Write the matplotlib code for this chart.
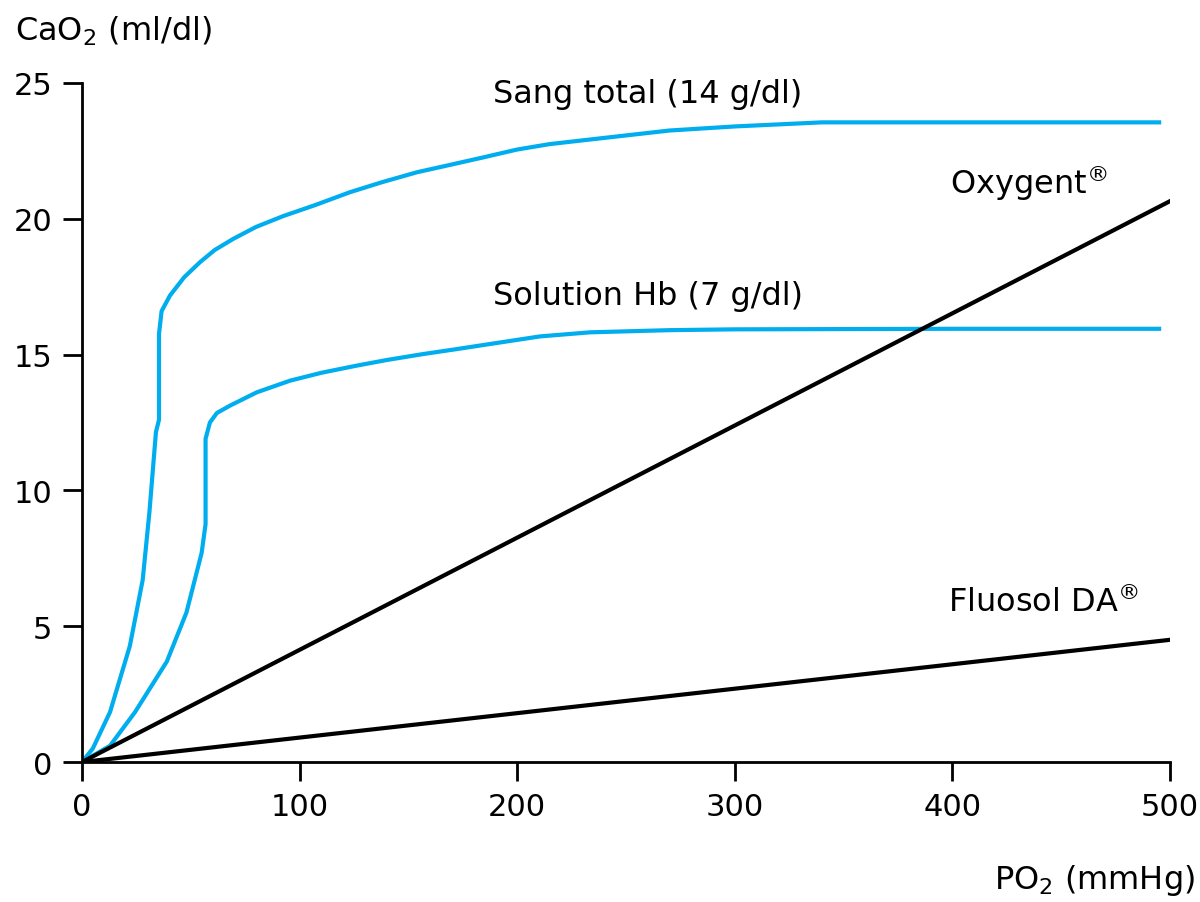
import matplotlib
matplotlib.use("Agg")
import matplotlib.pyplot as plt

plt.rcParams['font.family'] = ['DejaVu Sans']

# Sang total (14 g/dl)
sang_po2 = [0, 5, 12.9, 22, 27.9, 31, 34, 35.4, 35.4, 36.6, 40.4, 47, 54.2, 61, 69.5, 80, 92.5, 107, 123.2, 138,
            153.8, 170, 184.4, 200, 215, 238, 270, 300, 340, 495]
sang_cao2 = [0, 0.5, 1.84, 4.27, 6.7, 9.2, 12.15, 12.6, 15.76, 16.6, 17.17, 17.85, 18.4, 18.85, 19.26, 19.7, 20.1,
             20.5, 20.98, 21.35, 21.71, 22.0, 22.26, 22.55, 22.75, 22.96, 23.25, 23.4, 23.55, 23.55]

# Solution Hb (7 g/dl)
hb_po2 = [0, 12.9, 24.4, 39, 48, 55, 56.8, 56.8, 58.8, 62, 68, 80.3, 95.6, 110, 126, 140, 156.8, 172, 187.5,
          210.5, 233.5, 270, 300, 400, 495]
hb_cao2 = [0, 0.6, 1.84, 3.7, 5.5, 7.7, 8.76, 11.9, 12.5, 12.85, 13.12, 13.61, 14.04, 14.33, 14.59, 14.8, 15.02,
           15.2, 15.39, 15.67, 15.82, 15.9, 15.93, 15.95, 15.95]

# Oxygent et Fluosol DA (droites)
oxy_po2 = [0, 500]
oxy_cao2 = [0, 20.65]
flu_po2 = [0, 500]
flu_cao2 = [0, 4.5]

blue = '#00AEEF'

fig = plt.figure(figsize=(12, 9.03), dpi=100)
ax = fig.add_axes([0.0683, 0.155, 0.9067, 0.752])

ax.plot(sang_po2, sang_cao2, color=blue, lw=3, solid_joinstyle='round')
ax.plot(hb_po2, hb_cao2, color=blue, lw=3, solid_joinstyle='round')
ax.plot(oxy_po2, oxy_cao2, color='black', lw=3)
ax.plot(flu_po2, flu_cao2, color='black', lw=3)

ax.set_xlim(0, 500)
ax.set_ylim(0, 25)
ax.set_xticks([0, 100, 200, 300, 400, 500])
ax.set_yticks([0, 5, 10, 15, 20, 25])
for s in ['top', 'right']:
    ax.spines[s].set_visible(False)
for s in ['left', 'bottom']:
    ax.spines[s].set_linewidth(2)
ax.tick_params(axis='both', direction='out', length=13.5, width=2, labelsize=22, pad=8)

ax.text(189, 24.05, "Sang total (14 g/dl)", fontsize=23, ha='left', va='bottom')
ax.text(189, 16.6, "Solution Hb (7 g/dl)", fontsize=23, ha='left', va='bottom')
ax.text(399, 20.6, "Oxygent$^{\\circledR}$", fontsize=23, ha='left', va='bottom')
ax.text(398, 5.3, "Fluosol DA$^{\\circledR}$", fontsize=23, ha='left', va='bottom')

fig.text(0.0125, 0.965, "CaO$_2$ (ml/dl)", fontsize=23, ha='left', va='center')
fig.text(0.996, 0.025, "PO$_2$ (mmHg)", fontsize=23, ha='right', va='center')

fig.savefig("out.png", dpi=100)
